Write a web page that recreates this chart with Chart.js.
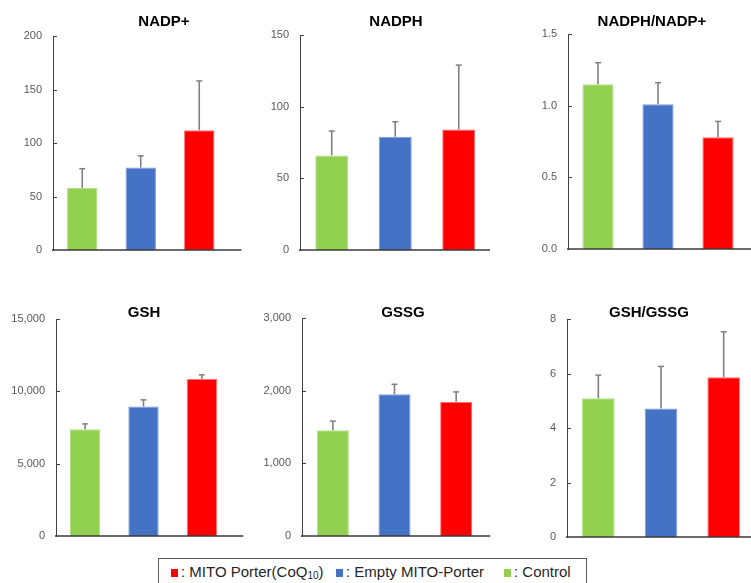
<!DOCTYPE html>
<html>
<head>
<meta charset="utf-8">
<script src="https://cdn.jsdelivr.net/npm/chart.js@4.4.1/dist/chart.umd.min.js"></script>
<style>
  html, body { margin: 0; padding: 0; background: #fff; }
  #stage { position: relative; width: 751px; height: 583px; overflow: hidden; background: #fff;
           font-family: "Liberation Sans", Arial, sans-serif; }
  canvas { position: absolute; }
  .ttl { position: absolute; font-weight: bold; font-size: 15px; line-height: 15px; color: #000;
         white-space: nowrap; transform: translateX(-50%); }
  #legend { position: absolute; left: 158px; top: 558px; width: 429px; height: 30px;
            border: 1px solid #595959; box-sizing: border-box; }
  .item { position: absolute; top: 4px; font-size: 15px; line-height: 18px; color: #262626; white-space: nowrap; }
  .sw { display: inline-block; width: 7px; height: 8px; margin-right: 3px; vertical-align: 0px; }
  sub { font-size: 10px; vertical-align: -2px; line-height: 0; }
</style>
</head>
<body>
<div id="stage">
  <canvas id="c0"></canvas><canvas id="c1"></canvas><canvas id="c2"></canvas>
  <canvas id="c3"></canvas><canvas id="c4"></canvas><canvas id="c5"></canvas>
  <div id="legend">
    <span class="item" style="left:12px"><span class="sw" style="background:#FF0000"></span>: MITO Porter(CoQ<sub>10</sub>)</span>
    <span class="item" style="left:177px"><span class="sw" style="background:#4472C4"></span>: Empty MITO-Porter</span>
    <span class="item" style="left:345px"><span class="sw" style="background:#92D050"></span>: Control</span>
  </div>
</div>
<script>
// Groups, in plotting order
const groups = ['Control', 'Empty MITO-Porter', 'MITO Porter(CoQ10)'];

// Panel titles
const titles = ['NADP+', 'NADPH', 'NADPH/NADP+', 'GSH', 'GSSG', 'GSH/GSSG'];

// Mean values per panel
const nadpMean  = [58, 77, 112];
const nadphMean = [66, 79, 84];
const ratioNadpMean = [1.15, 1.01, 0.78];
const gshMean   = [7380, 8950, 10860];
const gssgMean  = [1456, 1950, 1846];
const ratioGshMean = [5.09, 4.72, 5.86];

// Standard deviations (upper error bars)
const nadpSd  = [18, 11, 46];
const nadphSd = [17, 10.5, 45];
const ratioNadpSd = [0.15, 0.15, 0.11];
const gshSd   = [370, 460, 280];
const gssgSd  = [125, 138, 137];
const ratioGshSd = [0.85, 1.54, 1.67];

// Y-axis ranges: max and step
const yMax  = [200, 150, 1.5, 15000, 3000, 8];
const yStep = [50, 50, 0.5, 5000, 1000, 2];

const means = [nadpMean, nadphMean, ratioNadpMean, gshMean, gssgMean, ratioGshMean];
const sds   = [nadpSd, nadphSd, ratioNadpSd, gshSd, gssgSd, ratioGshSd];

const barColors = ['#92D050', '#4472C4', '#FF0000'];
const barEdges  = ['#B5E08A', '#7E9FD9', '#FF7070'];

// Page geometry of each panel: y-axis x, top tick y, zero y, category span, baseline end, title centre
const layoutBoxes = [
  { ax: 53,    top: 36,    zero: 250,   span: 175.5, end: 241.5, tx: 164 },
  { ax: 300,   top: 35,    zero: 250,   span: 190.5, end: 490,   tx: 396 },
  { ax: 567.7, top: 34.3,  zero: 249.3, span: 180,   end: 751,   tx: 652 },
  { ax: 55.7,  top: 319.3, zero: 536.7, span: 175,   end: 243,   tx: 144 },
  { ax: 301.7, top: 318.3, zero: 536.7, span: 185,   end: 490,   tx: 403 },
  { ax: 567.3, top: 319.3, zero: 537.7, span: 188,   end: 760,   tx: 649 }
];

const LEFT = 50, PADT = 20, PADB = 20;

// Draws the baseline, inward tick marks and the upper SD error bars
const decorPlugin = {
  id: 'decor',
  afterDatasetsDraw(chart, args, opts) {
    const ctx = chart.ctx, area = chart.chartArea, ys = chart.scales.y;
    ctx.save();
    const meta = chart.getDatasetMeta(0);
    ctx.strokeStyle = '#808080';
    meta.data.forEach((el, i) => {
      const v = chart.data.datasets[0].data[i];
      const yTop = ys.getPixelForValue(v + opts.sd[i]);
      ctx.lineWidth = 1.6;
      ctx.beginPath(); ctx.moveTo(el.x, el.y); ctx.lineTo(el.x, yTop); ctx.stroke();
      ctx.lineWidth = 1.5;
      ctx.beginPath(); ctx.moveTo(el.x - 3, yTop); ctx.lineTo(el.x + 3, yTop); ctx.stroke();
    });
    ctx.strokeStyle = '#404040';
    ctx.lineWidth = 1;
    ys.ticks.forEach(t => {
      if (t.value === 0) return;
      const y = Math.round(ys.getPixelForValue(t.value)) + 0.5;
      ctx.beginPath(); ctx.moveTo(area.left, y); ctx.lineTo(area.left + 4, y); ctx.stroke();
    });
    ctx.strokeStyle = '#3a3a3a';
    ctx.lineWidth = 1.6;
    ctx.beginPath();
    ctx.moveTo(area.left - 1, area.bottom);
    ctx.lineTo(area.left + opts.lineLen, area.bottom);
    ctx.stroke();
    ctx.restore();
  }
};

const stage = document.getElementById('stage');

layoutBoxes.forEach((b, k) => {
  const cv = document.getElementById('c' + k);
  const w = Math.ceil(LEFT + (b.end - b.ax) + 2);
  const h = Math.round(b.zero - b.top + PADT + PADB);
  cv.style.left = (b.ax - LEFT) + 'px';
  cv.style.top = (b.top - PADT) + 'px';
  cv.style.width = w + 'px';
  cv.style.height = h + 'px';
  cv.width = w; cv.height = h;

  const t = document.createElement('div');
  t.className = 'ttl';
  t.textContent = titles[k];
  t.style.left = b.tx + 'px';
  t.style.top = (k < 3 ? 13.2 : 304.2) + 'px';
  stage.appendChild(t);

  const pad = { left: 0, top: PADT, bottom: PADB, right: w - LEFT - b.span };
  const chart = new Chart(cv, {
    type: 'bar',
    data: {
      labels: groups,
      datasets: [{
        data: means[k],
        backgroundColor: barColors,
        borderColor: barEdges,
        borderWidth: 1,
        borderSkipped: 'bottom',
        barPercentage: 0.52,
        categoryPercentage: 1
      }]
    },
    options: {
      responsive: false,
      animation: false,
      devicePixelRatio: 1,
      layout: { padding: pad },
      plugins: {
        legend: { display: false },
        tooltip: { enabled: false },
        decor: { sd: sds[k], lineLen: b.end - b.ax }
      },
      scales: {
        x: {
          offset: true,
          grid: { display: false, drawTicks: false },
          border: { display: false },
          ticks: { display: false },
          afterFit: s => { s.height = 0; }
        },
        y: {
          min: 0, max: yMax[k],
          grid: { display: false, drawTicks: false },
          border: { display: true, color: '#404040', width: 1 },
          ticks: {
            stepSize: yStep[k],
            padding: 11,
            color: '#595959',
            font: { family: '"Liberation Sans", Arial, sans-serif', size: 11 },
            callback: v => (k === 2 ? v.toFixed(1) : v.toLocaleString('en-US'))
          },
          afterFit: s => { s.width = LEFT; }
        }
      }
    },
    plugins: [decorPlugin]
  });

  // Nudge the layout padding so the plot area lands on the intended box
  for (let i = 0; i < 3; i++) {
    const a = chart.chartArea;
    const dT = a.top - PADT, dB = (h - PADB) - a.bottom;
    const dL = a.left - LEFT, dR = (LEFT + b.span) - a.right;
    if (Math.abs(dT) + Math.abs(dB) + Math.abs(dL) + Math.abs(dR) < 0.1) break;
    pad.top -= dT; pad.bottom -= dB; pad.left -= dL; pad.right -= dR;
    chart.options.layout.padding = Object.assign({}, pad);
    chart.update('none');
  }
});
</script>
</body>
</html>
